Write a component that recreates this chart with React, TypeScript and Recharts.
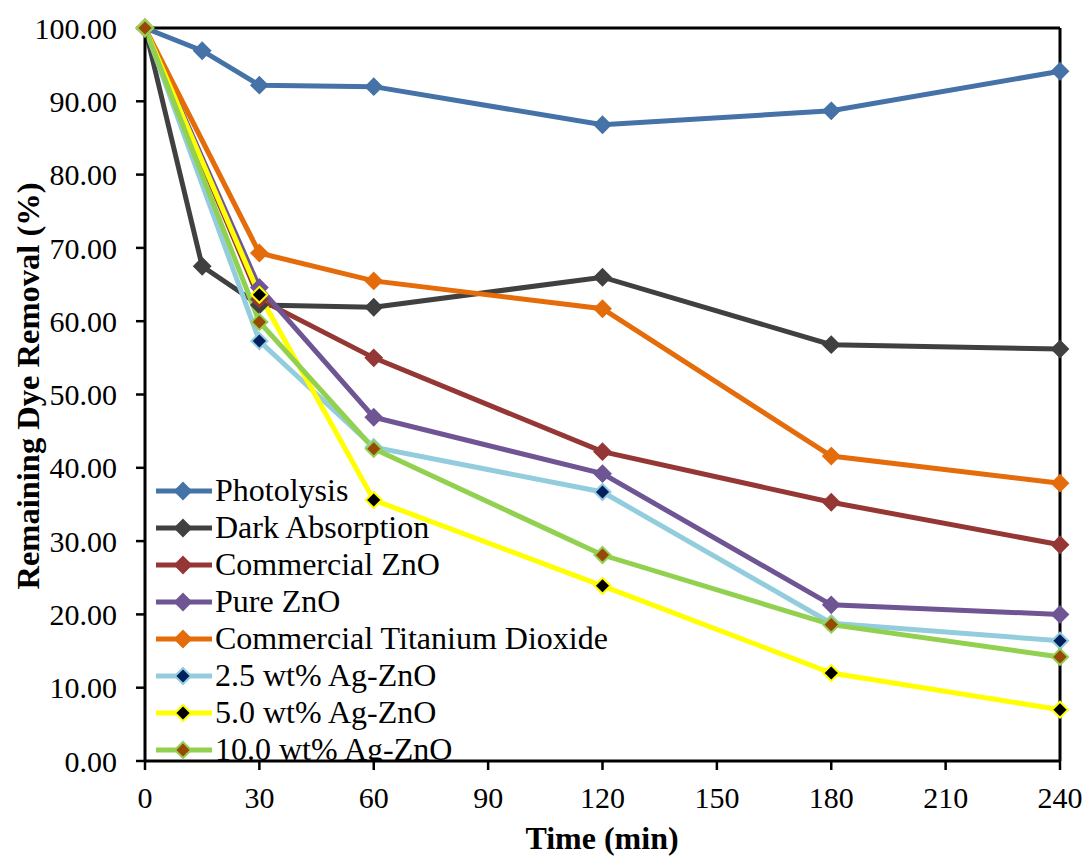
import React from "react";
import {
  LineChart,
  Line,
  XAxis,
  YAxis,
  Legend,
  ReferenceLine,
} from "recharts";

const TIMES_WITH_15 = [0, 15, 30, 60, 120, 180, 240];
const TIMES = [0, 30, 60, 120, 180, 240];

const PHOTOLYSIS = [100, 96.9, 92.2, 92.0, 86.8, 88.7, 94.1];
const DARK_ABSORPTION = [100, 67.5, 62.2, 61.9, 66.0, 56.8, 56.2];
const COMMERCIAL_ZNO = [100, 63.0, 55.0, 42.2, 35.3, 29.5];
const PURE_ZNO = [100, 64.6, 46.9, 39.2, 21.3, 20.0];
const COMMERCIAL_TIO2 = [100, 69.3, 65.5, 61.7, 41.6, 37.9];
const AG_ZNO_2_5 = [100, 57.3, 42.8, 36.7, 18.8, 16.4];
const AG_ZNO_5_0 = [100, 63.6, 35.6, 23.9, 12.0, 7.0];
const AG_ZNO_10_0 = [100, 59.9, 42.6, 28.1, 18.6, 14.2];

const X_TICKS = [0, 30, 60, 90, 120, 150, 180, 210, 240];
const Y_TICKS = [0, 10, 20, 30, 40, 50, 60, 70, 80, 90, 100];

const FONT = '"Liberation Serif", "Times New Roman", serif';

const toRows = (times: number[], values: number[]) =>
  times.map((t, i) => ({ time: t, value: values[i] }));

const SERIES = [
  { name: "Photolysis", data: toRows(TIMES_WITH_15, PHOTOLYSIS), color: "#4572a7", fill: "#4572a7", edge: "#4572a7" },
  { name: "Dark Absorption", data: toRows(TIMES_WITH_15, DARK_ABSORPTION), color: "#404040", fill: "#404040", edge: "#404040" },
  { name: "Commercial ZnO", data: toRows(TIMES, COMMERCIAL_ZNO), color: "#953735", fill: "#953735", edge: "#953735" },
  { name: "Pure ZnO", data: toRows(TIMES, PURE_ZNO), color: "#6f5594", fill: "#6f5594", edge: "#6f5594" },
  { name: "Commercial Titanium Dioxide", data: toRows(TIMES, COMMERCIAL_TIO2), color: "#e46c0a", fill: "#e46c0a", edge: "#e46c0a" },
  { name: "2.5 wt% Ag-ZnO", data: toRows(TIMES, AG_ZNO_2_5), color: "#93cddd", fill: "#002060", edge: "#93cddd" },
  { name: "5.0 wt% Ag-ZnO", data: toRows(TIMES, AG_ZNO_5_0), color: "#ffff00", fill: "#000000", edge: "#ffff00" },
  { name: "10.0 wt% Ag-ZnO", data: toRows(TIMES, AG_ZNO_10_0), color: "#92d050", fill: "#984807", edge: "#92d050" },
];

const R = 8;

const diamond = (cx: number, cy: number, r: number) =>
  `M${cx},${cy - r}L${cx + r},${cy}L${cx},${cy + r}L${cx - r},${cy}Z`;

const makeDot = (fill: string, edge: string) => (props: any) => {
  const { cx, cy, index } = props;
  if (cx == null || cy == null) return <g key={index} />;
  return (
    <path key={index} d={diamond(cx, cy, R)} fill={fill} stroke={edge} strokeWidth={2} />
  );
};

function LegendBox() {
  return (
    <div style={{ fontFamily: FONT, fontSize: 32, color: "#000", textAlign: "left" }}>
      {SERIES.map((s) => (
        <div key={s.name} style={{ display: "flex", alignItems: "center", height: 37 }}>
          <svg width={60} height={22} style={{ flexShrink: 0 }}>
            <line x1={1} y1={11} x2={57} y2={11} stroke={s.color} strokeWidth={5} />
            <path d={diamond(28, 11, R)} fill={s.fill} stroke={s.edge} strokeWidth={2} />
          </svg>
          <span style={{ lineHeight: "37px", whiteSpace: "nowrap" }}>{s.name}</span>
        </div>
      ))}
    </div>
  );
}

export default function App() {
  return (
    <div style={{ position: "absolute", left: 0, top: 0, background: "#fff" }}>
      <LineChart
        width={1086}
        height={856}
        margin={{ top: 28, right: 26, left: 0, bottom: 0 }}
      >
        <XAxis
          type="number"
          dataKey="time"
          domain={[0, 240]}
          ticks={X_TICKS}
          allowDuplicatedCategory={false}
          height={95}
          axisLine={{ stroke: "#000", strokeWidth: 3 }}
          tickLine={{ stroke: "#000", strokeWidth: 2.5 }}
          tickSize={9}
          tickMargin={17}
          tick={{ fill: "#000", fontSize: 30, fontFamily: FONT }}
          label={{
            content: () => (
              <text
                x={602}
                y={849}
                textAnchor="middle"
                fontFamily={FONT}
                fontSize={32}
                fontWeight="bold"
                fill="#000"
              >
                Time (min)
              </text>
            ),
          }}
        />
        <YAxis
          type="number"
          domain={[0, 100]}
          ticks={Y_TICKS}
          width={145}
          axisLine={{ stroke: "#000", strokeWidth: 3 }}
          tickLine={{ stroke: "#000", strokeWidth: 2.5 }}
          tickSize={9}
          tickMargin={19}
          tickFormatter={(v: number) => v.toFixed(2)}
          tick={{ fill: "#000", fontSize: 30, fontFamily: FONT }}
          label={{
            content: () => (
              <text
                x={28}
                y={386}
                transform="rotate(-90 28 386)"
                textAnchor="middle"
                dominantBaseline="central"
                fontFamily={FONT}
                fontSize={32.5}
                fontWeight="bold"
                fill="#000"
              >
                Remaining Dye Removal (%)
              </text>
            ),
          }}
        />
        <ReferenceLine y={100} stroke="#000" strokeWidth={3} />
        <ReferenceLine x={240} stroke="#000" strokeWidth={3} />
        {SERIES.map((s) => (
          <Line
            key={s.name}
            name={s.name}
            data={s.data}
            dataKey="value"
            type="linear"
            stroke={s.color}
            strokeWidth={5}
            dot={makeDot(s.fill, s.edge)}
            activeDot={false}
            isAnimationActive={false}
          />
        ))}
        <Legend
          layout="horizontal"
          align="center"
          verticalAlign="middle"
          content={() => <LegendBox />}
          wrapperStyle={{
            position: "absolute",
            left: 155,
            top: 472,
            width: 520,
            height: 289,
            overflow: "hidden",
          }}
        />
      </LineChart>
    </div>
  );
}
